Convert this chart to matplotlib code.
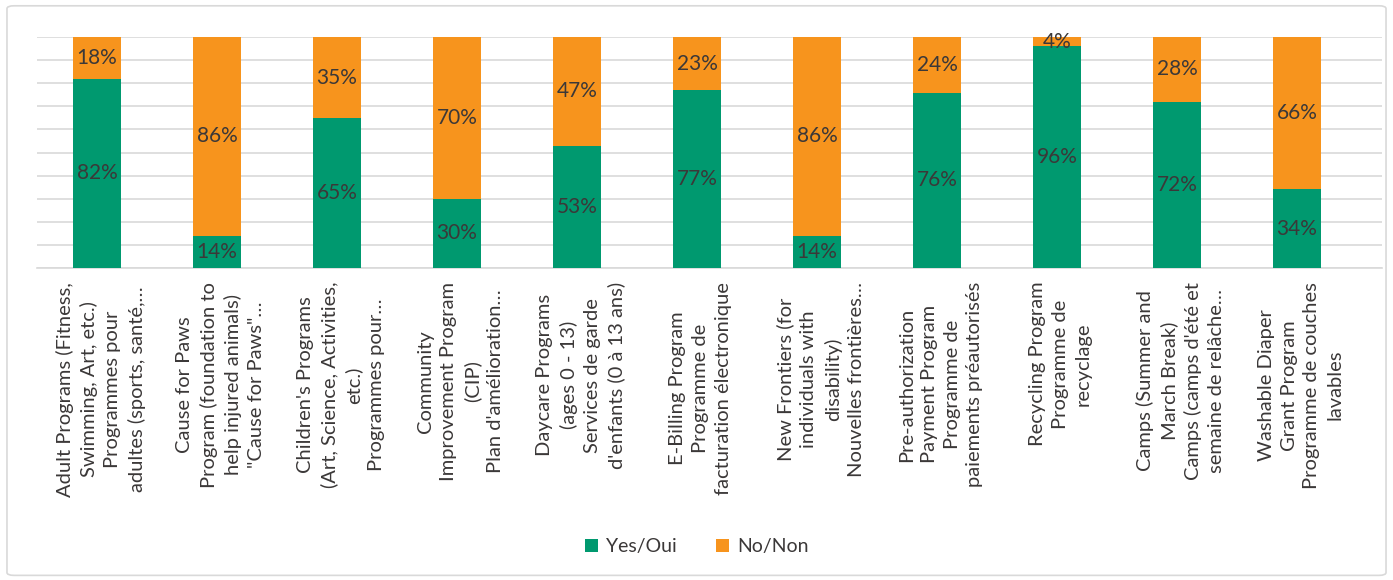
import matplotlib.pyplot as plt
from matplotlib.patches import FancyBboxPatch

plt.rcParams['font.family'] = ['Lato', 'DejaVu Sans']

programs = [
    "Adult Programs (Fitness,\nSwimming, Art, etc.)\nProgrammes pour\nadultes (sports, santé,…",
    "Cause for Paws\nProgram (foundation to\nhelp injured animals)\n\"Cause for Paws\"…",
    "Children's Programs\n(Art, Science, Activities,\netc.)\nProgrammes pour…",
    "Community\nImprovement Program\n(CIP)\nPlan d'amélioration…",
    "Daycare Programs\n(ages 0 - 13)\nServices de garde\nd'enfants (0 à 13 ans)",
    "E-Billing Program\nProgramme de\nfacturation électronique",
    "New Frontiers (for\nindividuals with\ndisability)\nNouvelles frontières…",
    "Pre-authorization\nPayment Program\nProgramme de\npaiements préautorisés",
    "Recycling Program\nProgramme de\nrecyclage",
    "Camps (Summer and\nMarch Break)\nCamps (camps d'été et\nsemaine de relâche…",
    "Washable Diaper\nGrant Program\nProgramme de couches\nlavables",
]
yes = [82, 14, 65, 30, 53, 77, 14, 76, 96, 72, 34]
no = [18, 86, 35, 70, 47, 23, 86, 24, 4, 28, 66]

green = '#00996f'
orange = '#f7941d'
txt = '#3b3838'

fig = plt.figure(figsize=(13.93, 5.8), dpi=100)
fig.patches.append(FancyBboxPatch((0.005, 0.008), 0.99, 0.982, boxstyle='round,pad=0,rounding_size=0.005',
                                  transform=fig.transFigure, fill=False, edgecolor='#d9d9d9', linewidth=1.2))
ax = fig.add_axes([0.0266, 0.538, 0.9656, 0.398])

x = range(len(programs))
ax.bar(x, yes, width=0.4, color=green, zorder=3, label='Yes/Oui')
ax.bar(x, no, width=0.4, bottom=yes, color=orange, zorder=3, label='No/Non')

for i in x:
    ax.text(i, yes[i] / 2, f'{yes[i]}%', ha='center', va='center', fontsize=15, color=txt, zorder=4)
    ax.text(i, yes[i] + no[i] / 2, f'{no[i]}%', ha='center', va='center', fontsize=15, color=txt, zorder=4)
    ax.text(i + 0.03, -6, programs[i], rotation=90, ha='center', va='top', multialignment='center',
            fontsize=14.5, color=txt, linespacing=1.42)

ax.set_xlim(-0.5, len(programs) - 0.29)
ax.set_ylim(0, 100)
ax.set_yticks(range(0, 101, 10))
ax.set_yticklabels([])
ax.set_xticks([])
ax.tick_params(left=False)
ax.grid(axis='y', color='#d9d9d9', linewidth=1.2, zorder=0)
for s in ['top', 'right', 'left']:
    ax.spines[s].set_visible(False)
ax.spines['bottom'].set_color('#d9d9d9')
ax.spines['bottom'].set_linewidth(1.2)

fig.legend(loc='center', bbox_to_anchor=(0.5, 0.057), ncol=2, frameon=False, fontsize=14,
           handlelength=0.7, handleheight=0.7, handletextpad=0.4, columnspacing=2.0, labelcolor=txt)

fig.savefig('out.png', dpi=100)
